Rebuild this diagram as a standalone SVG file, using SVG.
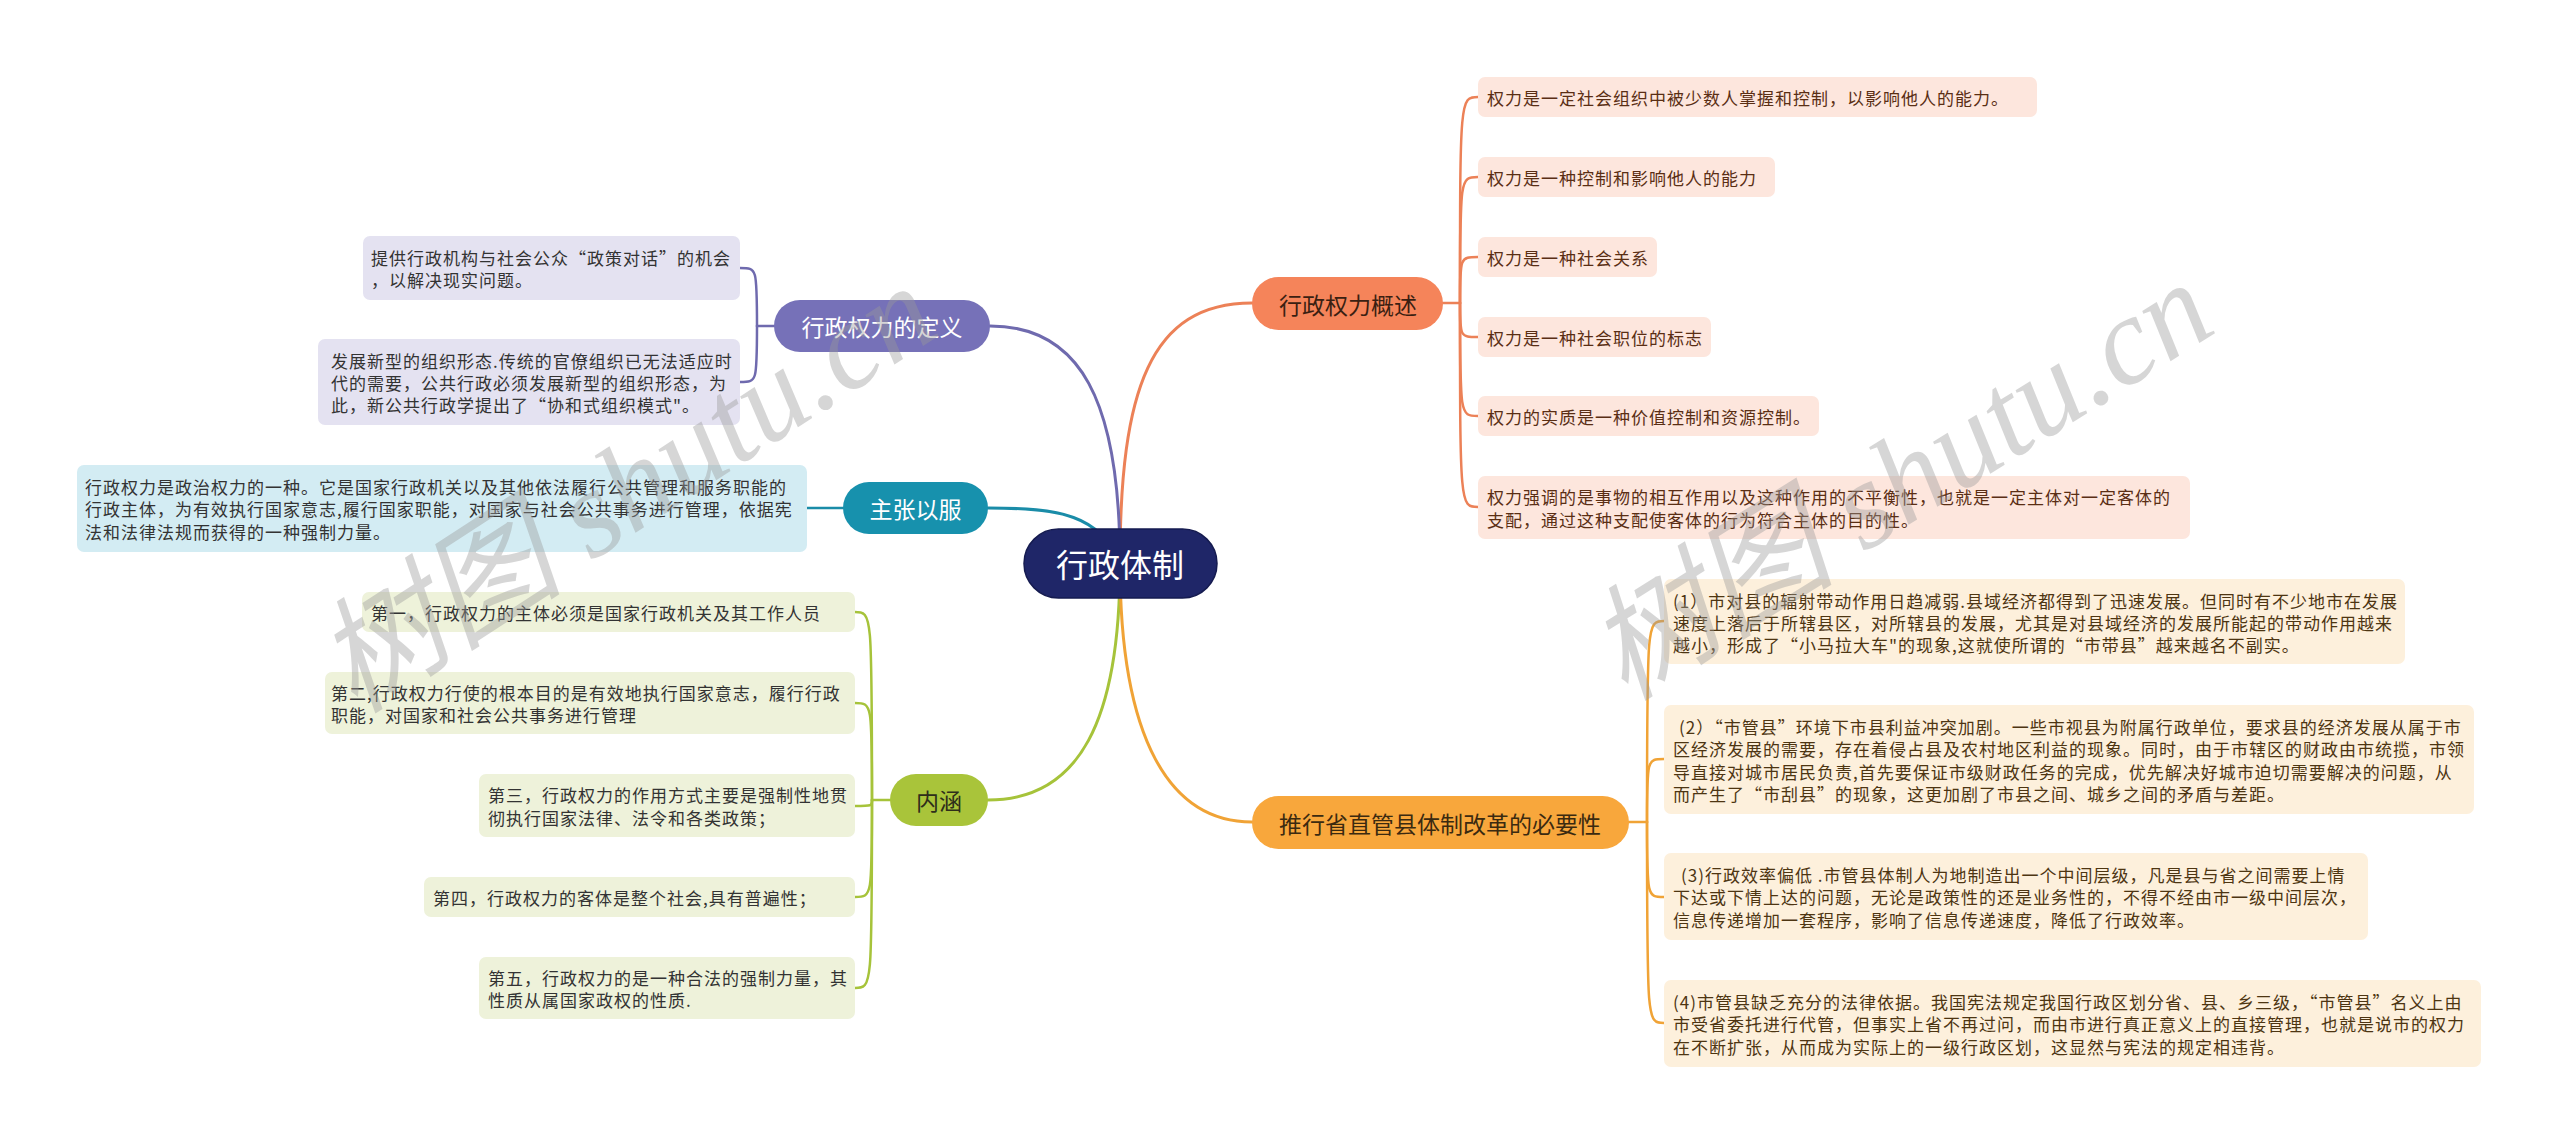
<svg xmlns="http://www.w3.org/2000/svg" width="2560" height="1144" viewBox="0 0 2560 1144">
<style>
.t{font-family:"Noto Sans CJK SC","Noto Sans",sans-serif;font-size:17px;letter-spacing:1px;dominant-baseline:central}
.m{font-family:"Noto Sans CJK SC","Noto Sans",sans-serif;font-size:23px;text-anchor:middle;dominant-baseline:central}
.c{fill:none;stroke-linecap:round}
.main{stroke-width:3}
.sub{stroke-width:2.5}
.or{stroke:#ec8157}.ye{stroke:#f0a336}.pu{stroke:#6f6aae}.te{stroke:#1a8ca8}.gr{stroke:#a6c33a}
.bo{fill:#fde6dd}.by{fill:#fdf0dc}.bp{fill:#e4e2f1}.bt{fill:#d3ecf3}.bg{fill:#eef2da}
.to{fill:#5a2e14}.ty{fill:#4d3512}.td{fill:#333333}
.wm{font-family:"Liberation Serif","Noto Sans CJK SC",serif;font-style:italic;font-size:125px;fill:#9a9a9a;opacity:0.4}
</style>
<rect width="2560" height="1144" fill="#ffffff"/>
<g id="connectors">
<path class="c main or" d="M1120 563 C1120 390,1150 303,1252 303"/>
<path class="c main pu" d="M1120 563 C1120 400,1080 326,990 326"/>
<path class="c main te" d="M1120 563 C1100 515,1060 508,988 508"/>
<path class="c main gr" d="M1120 563 C1120 720,1080 800,988 800"/>
<path class="c main ye" d="M1120 563 C1120 740,1170 822,1252 822"/>
<g class="c sub or">
<path d="M1443 303 H1460"/>
<path d="M1460 303 C1460 97,1460 97,1478 97"/>
<path d="M1460 303 C1460 177,1460 177,1478 177"/>
<path d="M1460 303 C1460 257,1460 257,1478 257"/>
<path d="M1460 303 C1460 337,1460 337,1478 337"/>
<path d="M1460 303 C1460 416,1460 416,1478 416"/>
<path d="M1460 303 C1460 507,1460 507,1478 507"/>
</g>
<g class="c sub ye">
<path d="M1629 822 H1647"/>
<path d="M1647 822 C1647 621,1647 621,1664 621"/>
<path d="M1647 822 C1647 759,1647 759,1664 759"/>
<path d="M1647 822 C1647 897,1647 897,1664 897"/>
<path d="M1647 822 C1647 1023,1647 1023,1664 1023"/>
</g>
<g class="c sub pu">
<path d="M774 326 H757"/>
<path d="M757 326 C757 268,757 268,740 268"/>
<path d="M757 326 C757 382,757 382,740 382"/>
</g>
<g class="c sub te">
<path d="M843 508 H807"/>
</g>
<g class="c sub gr">
<path d="M890 800 H872"/>
<path d="M872 800 C872 612,872 612,855 612"/>
<path d="M872 800 C872 703,872 703,855 703"/>
<path d="M872 800 C872 806,872 806,855 806"/>
<path d="M872 800 C872 897,872 897,855 897"/>
<path d="M872 800 C872 988,872 988,855 988"/>
</g>
</g>
<g id="root">
<rect x="1024" y="529" width="193" height="69" rx="34.5" fill="#1f2668" stroke="#151b50" stroke-width="1.5"/>
<text class="m" x="1120" y="563" style="font-size:32px" fill="#ffffff">行政体制</text>
</g>
<g id="n-gaishu">
<rect x="1252" y="277" width="191" height="53" rx="26.5" fill="#f5845a"/>
<text class="m" x="1348" y="303.5" fill="#3b1f12">行政权力概述</text>
</g>
<g id="n-gaishu-1"><rect class="bo" x="1478" y="77" width="559" height="40" rx="7"/><text class="t to" x="1487" y="97">权力是一定社会组织中被少数人掌握和控制，以影响他人的能力。</text></g>
<g id="n-gaishu-2"><rect class="bo" x="1478" y="157" width="297" height="40" rx="7"/><text class="t to" x="1487" y="177">权力是一种控制和影响他人的能力</text></g>
<g id="n-gaishu-3"><rect class="bo" x="1478" y="237" width="179" height="40" rx="7"/><text class="t to" x="1487" y="257">权力是一种社会关系</text></g>
<g id="n-gaishu-4"><rect class="bo" x="1478" y="317" width="233" height="40" rx="7"/><text class="t to" x="1487" y="337">权力是一种社会职位的标志</text></g>
<g id="n-gaishu-5"><rect class="bo" x="1478" y="396" width="341" height="40" rx="7"/><text class="t to" x="1487" y="416">权力的实质是一种价值控制和资源控制。</text></g>
<g id="n-gaishu-6"><rect class="bo" x="1478" y="476" width="712" height="63" rx="7"/><text class="t to" x="1487" y="496">权力强调的是事物的相互作用以及这种作用的不平衡性，也就是一定主体对一定客体的</text><text class="t to" x="1487" y="519">支配，通过这种支配使客体的行为符合主体的目的性。</text></g>
<g id="n-biyao">
<rect x="1252" y="796" width="377" height="53" rx="26.5" fill="#f8a73c"/>
<text class="m" x="1440" y="822.5" fill="#3b2a10">推行省直管县体制改革的必要性</text>
</g>
<g id="n-biyao-1"><rect class="by" x="1664" y="579" width="741" height="85" rx="7"/>
<text class="t ty" x="1673" y="600">(1）市对县的辐射带动作用日趋减弱.县域经济都得到了迅速发展。但同时有不少地市在发展</text>
<text class="t ty" x="1673" y="622">速度上落后于所辖县区，对所辖县的发展，尤其是对县域经济的发展所能起的带动作用越来</text>
<text class="t ty" x="1673" y="644">越小，形成了“小马拉大车"的现象,这就使所谓的“市带县”越来越名不副实。</text></g>
<g id="n-biyao-2"><rect class="by" x="1664" y="705" width="810" height="109" rx="7"/>
<text class="t ty" x="1679" y="726">(2）“市管县”环境下市县利益冲突加剧。一些市视县为附属行政单位，要求县的经济发展从属于市</text>
<text class="t ty" x="1673" y="748">区经济发展的需要，存在着侵占县及农村地区利益的现象。同时，由于市辖区的财政由市统揽，市领</text>
<text class="t ty" x="1673" y="771">导直接对城市居民负责,首先要保证市级财政任务的完成，优先解决好城市迫切需要解决的问题，从</text>
<text class="t ty" x="1673" y="793">而产生了“市刮县”的现象，这更加剧了市县之间、城乡之间的矛盾与差距。</text></g>
<g id="n-biyao-3"><rect class="by" x="1664" y="853" width="704" height="87" rx="7"/>
<text class="t ty" x="1681" y="874">(3)行政效率偏低 .市管县体制人为地制造出一个中间层级，凡是县与省之间需要上情</text>
<text class="t ty" x="1673" y="896.5">下达或下情上达的问题，无论是政策性的还是业务性的，不得不经由市一级中间层次，</text>
<text class="t ty" x="1673" y="919">信息传递增加一套程序，影响了信息传递速度，降低了行政效率。</text></g>
<g id="n-biyao-4"><rect class="by" x="1664" y="980" width="817" height="87" rx="7"/>
<text class="t ty" x="1673" y="1001">(4)市管县缺乏充分的法律依据。我国宪法规定我国行政区划分省、县、乡三级，“市管县”名义上由</text>
<text class="t ty" x="1673" y="1023.5">市受省委托进行代管，但事实上省不再过问，而由市进行真正意义上的直接管理，也就是说市的权力</text>
<text class="t ty" x="1673" y="1046">在不断扩张，从而成为实际上的一级行政区划，这显然与宪法的规定相违背。</text></g>
<g id="n-dingyi">
<rect x="774" y="300" width="216" height="52" rx="26" fill="#7671b8"/>
<text class="m" x="882" y="326" fill="#ffffff">行政权力的定义</text>
</g>
<g id="n-dingyi-1"><rect class="bp" x="363" y="236" width="377" height="64" rx="7"/>
<text class="t td" x="371" y="257">提供行政机构与社会公众“政策对话”的机会</text>
<text class="t td" x="371" y="279">，以解决现实问题。</text></g>
<g id="n-dingyi-2"><rect class="bp" x="318" y="339" width="422" height="86" rx="7"/>
<text class="t td" x="331" y="360">发展新型的组织形态.传统的官僚组织已无法适应时</text>
<text class="t td" x="331" y="382">代的需要，公共行政必须发展新型的组织形态，为</text>
<text class="t td" x="331" y="404">此，新公共行政学提出了“协和式组织模式"。</text></g>
<g id="n-zhuzhang">
<rect x="843" y="482" width="145" height="52" rx="26" fill="#1791ad"/>
<text class="m" x="915.5" y="508" fill="#ffffff">主张以服</text>
</g>
<g id="n-zhuzhang-1"><rect class="bt" x="77" y="465" width="730" height="87" rx="7"/>
<text class="t td" x="85" y="486">行政权力是政治权力的一种。它是国家行政机关以及其他依法履行公共管理和服务职能的</text>
<text class="t td" x="85" y="508.5">行政主体，为有效执行国家意志,履行国家职能，对国家与社会公共事务进行管理，依据宪</text>
<text class="t td" x="85" y="531">法和法律法规而获得的一种强制力量。</text></g>
<g id="n-neihan">
<rect x="890" y="774" width="98" height="52" rx="26" fill="#a9c43a"/>
<text class="m" x="939" y="800" fill="#2e2e1a">内涵</text>
</g>
<g id="n-neihan-1"><rect class="bg" x="362" y="592" width="493" height="40" rx="7"/>
<text class="t td" x="371" y="612">第一，行政权力的主体必须是国家行政机关及其工作人员</text></g>
<g id="n-neihan-2"><rect class="bg" x="325" y="672" width="530" height="62" rx="7"/>
<text class="t td" x="331" y="692">第二,行政权力行使的根本目的是有效地执行国家意志，履行行政</text>
<text class="t td" x="331" y="714">职能，对国家和社会公共事务进行管理</text></g>
<g id="n-neihan-3"><rect class="bg" x="479" y="774" width="376" height="63" rx="7"/>
<text class="t td" x="488" y="794">第三，行政权力的作用方式主要是强制性地贯</text>
<text class="t td" x="488" y="817">彻执行国家法律、法令和各类政策；</text></g>
<g id="n-neihan-4"><rect class="bg" x="424" y="877" width="431" height="40" rx="7"/>
<text class="t td" x="433" y="897">第四，行政权力的客体是整个社会,具有普遍性；</text></g>
<g id="n-neihan-5"><rect class="bg" x="479" y="957" width="376" height="62" rx="7"/>
<text class="t td" x="488" y="977">第五，行政权力的是一种合法的强制力量，其</text>
<text class="t td" x="488" y="999">性质从属国家政权的性质.</text></g>
<g id="watermarks">
<text class="wm" transform="translate(355,715) rotate(-33)">树图 shutu.cn</text>
<text class="wm" transform="translate(1625,702) rotate(-32)">树图 shutu.cn</text>
</g>
</svg>
